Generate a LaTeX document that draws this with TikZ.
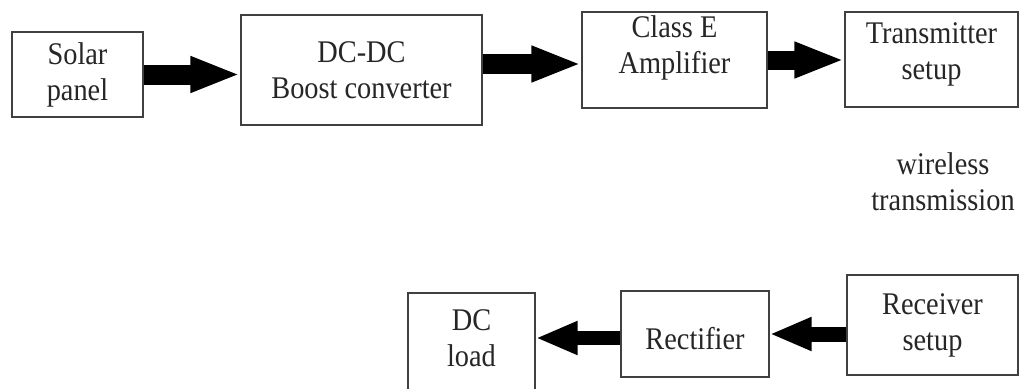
\documentclass[tikz,border=0pt]{standalone}
\usepackage{fontspec}
\setmainfont[FakeStretch=0.9]{Liberation Serif}
\usetikzlibrary{arrows.meta,calc}

\tikzset{
  blk/.style={draw=black!75, line width=1.3pt, fill=white, inner sep=0pt},
  lbl/.style={align=center, text=black!85, font=\fontsize{31.5}{36}\selectfont},
  fatarrow/.style={line width=#1, -{Triangle[length=50, width=33]}},
  slimarrow/.style={line width=#1, -{Triangle[length=42, width=31]}},
}

% box: name, centre x, centre y, width, height, text offset, text
\newcommand\blockat[7]{
  \node[blk, minimum width=#4, minimum height=#5] (#1) at (#2,#3) {};
  \node[lbl] (#1-txt) at ($(#1.center)+(0,#6)$) {#7};
}

\begin{document}
\begin{tikzpicture}[x=1pt, y=-1pt]
    \useasboundingbox (0,0) rectangle (1022,388);

    % transmitting side
    \blockat{solar}{77.5}{74.5}{131}{85}{0}{Solar\\panel}
    \blockat{boost}{361.5}{70}{241}{110}{0}{DC-DC\\Boost converter}
    \blockat{amp}{674.5}{60}{185}{96}{-12}{Class E\\Amplifier}
    \blockat{tx}{931.5}{59.5}{173}{95}{-5}{Transmitter\\setup}

    \node[lbl] (wireless) at (943,182) {wireless\\transmission};

    % receiving side
    \blockat{rx}{932.5}{325}{171}{100}{0}{Receiver\\setup}
    \blockat{rect}{695}{334}{148}{86}{5}{Rectifier}
    \blockat{load}{471.5}{346.5}{127}{107}{-8}{DC\\load}

    % top row arrows
    \draw[fatarrow=20pt] (solar.east) -- (solar.east -| boost.west);
    \path ($(boost.east)+(0,-6)$) coordinate (b2);
    \draw[fatarrow=20pt] (b2) -- (b2 -| amp.west);
    \draw[fatarrow=19pt] (amp.east) -- (amp.east -| tx.west);

    % bottom row arrows
    \draw[slimarrow=15pt] (rx.west |- rect.east) -- (rect.east);
    \path ($(rect.west)+(0,4)$) coordinate (r2);
    \draw[slimarrow=14pt] (r2) -- (r2 -| load.east);
\end{tikzpicture}
\end{document}
